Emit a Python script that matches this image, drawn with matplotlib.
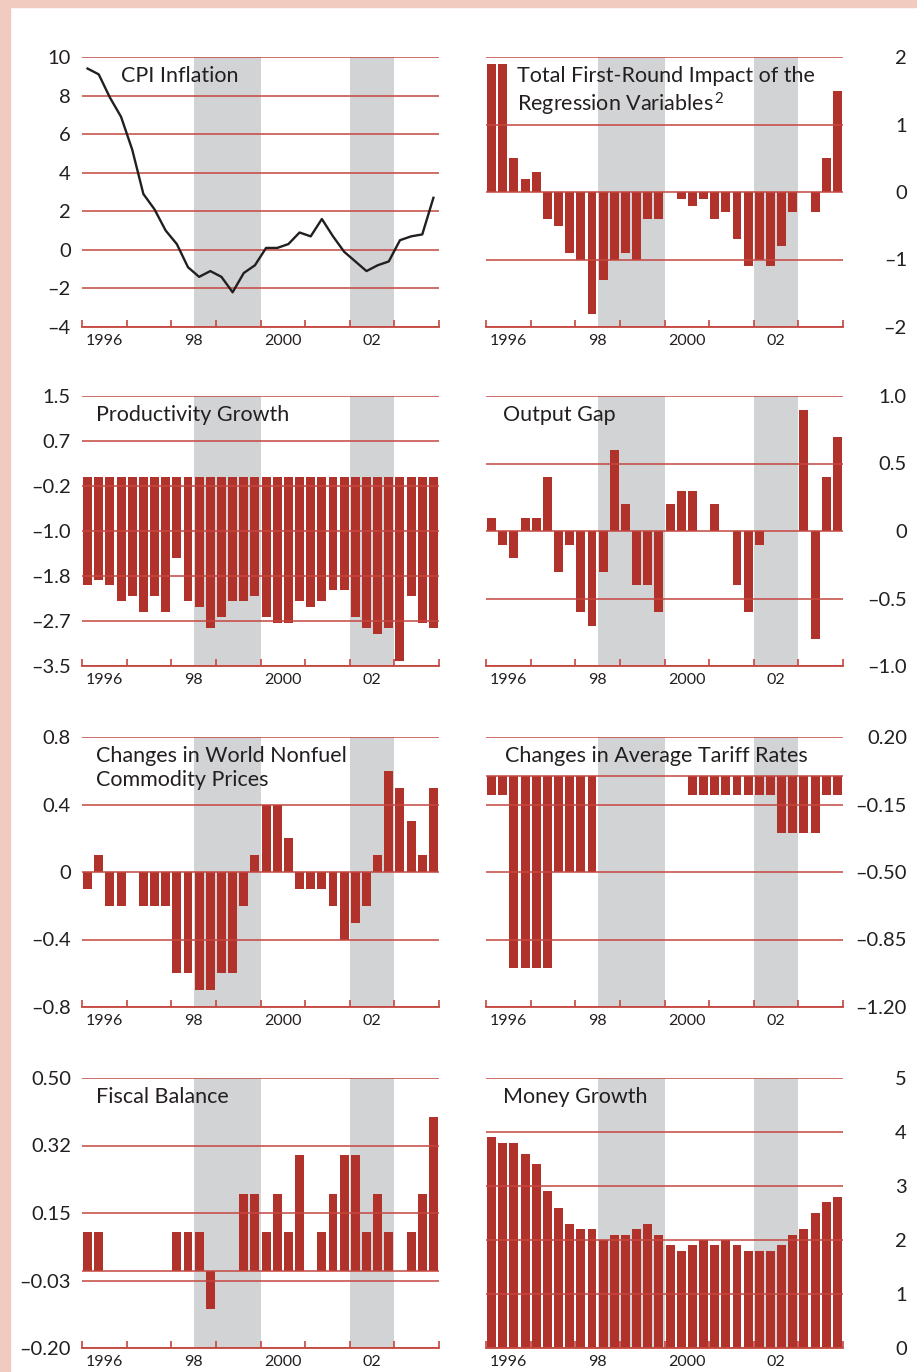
# Determinants of inflation - 8 panel chart (quarterly, 1996-2003)

import numpy as np
import matplotlib.pyplot as plt
from matplotlib.patches import Rectangle

plt.rcParams['font.family'] = ['Lato', 'DejaVu Sans']
plt.rcParams['mathtext.fontset'] = 'custom'
plt.rcParams['mathtext.rm'] = 'Lato'
plt.rcParams['mathtext.default'] = 'rm'

# quarterly positions: 1996Q1 .. 2003Q4
quarters = 1996 + (np.arange(32) + 0.5) / 4

cpi = [9.4, 9.1, 7.9, 6.9, 5.2, 2.9, 2.1, 1.0, 0.3, -0.9, -1.4, -1.1, -1.4, -2.2, -1.2, -0.8,
       0.1, 0.1, 0.3, 0.9, 0.7, 1.6, 0.7, -0.1, -0.6, -1.1, -0.8, -0.6, 0.5, 0.7, 0.8, 2.7]

first_round = [1.9, 1.9, 0.5, 0.2, 0.3, -0.4, -0.5, -0.9, -1.0, -1.8, -1.3, -1.0, -0.9, -1.0, -0.4, -0.4,
               0.0, -0.1, -0.2, -0.1, -0.4, -0.3, -0.7, -1.1, -1.0, -1.1, -0.8, -0.3, 0.0, -0.3, 0.5, 1.5]

productivity = [-2.0, -1.9, -2.0, -2.3, -2.2, -2.5, -2.2, -2.5, -1.5, -2.3, -2.4, -2.8, -2.6, -2.3, -2.3, -2.2,
                -2.6, -2.7, -2.7, -2.3, -2.4, -2.3, -2.1, -2.1, -2.6, -2.8, -2.9, -2.8, -3.4, -2.2, -2.7, -2.8]

output_gap = [0.1, -0.1, -0.2, 0.1, 0.1, 0.4, -0.3, -0.1, -0.6, -0.7, -0.3, 0.6, 0.2, -0.4, -0.4, -0.6,
              0.2, 0.3, 0.3, 0.0, 0.2, 0.0, -0.4, -0.6, -0.1, 0.0, 0.0, 0.0, 0.9, -0.8, 0.4, 0.7]

commodity = [-0.1, 0.1, -0.2, -0.2, 0.0, -0.2, -0.2, -0.2, -0.6, -0.6, -0.7, -0.7, -0.6, -0.6, -0.2, 0.1,
             0.4, 0.4, 0.2, -0.1, -0.1, -0.1, -0.2, -0.4, -0.3, -0.2, 0.1, 0.6, 0.5, 0.3, 0.1, 0.5]

tariff = [-0.1, -0.1, -1.0, -1.0, -1.0, -1.0, -0.5, -0.5, -0.5, -0.5, 0.0, 0.0, 0.0, 0.0, 0.0, 0.0,
          0.0, 0.0, -0.1, -0.1, -0.1, -0.1, -0.1, -0.1, -0.1, -0.1, -0.3, -0.3, -0.3, -0.3, -0.1, -0.1]

fiscal = [0.1, 0.1, 0.0, 0.0, 0.0, 0.0, 0.0, 0.0, 0.1, 0.1, 0.1, -0.1, 0.0, 0.0, 0.2, 0.2,
          0.1, 0.2, 0.1, 0.3, 0.0, 0.1, 0.2, 0.3, 0.3, 0.1, 0.2, 0.1, 0.0, 0.1, 0.2, 0.4]

money = [3.9, 3.8, 3.8, 3.6, 3.4, 2.9, 2.6, 2.3, 2.2, 2.2, 2.0, 2.1, 2.1, 2.2, 2.3, 2.1,
         1.9, 1.8, 1.9, 2.0, 1.9, 2.0, 1.9, 1.8, 1.8, 1.8, 1.9, 2.1, 2.2, 2.5, 2.7, 2.8]

M = '\u2013'
cpi_ticks = [10, 8, 6, 4, 2, 0, -2, -4]
cpi_labels = ['10', '8', '6', '4', '2', '0', M + '2', M + '4']
fr_ticks = [2, 1, 0, -1, -2]
fr_labels = ['2', '1', '0', M + '1', M + '2']
prod_ticks = list(np.linspace(1.5, -3.5, 7))
prod_labels = ['1.5', '0.7', M + '0.2', M + '1.0', M + '1.8', M + '2.7', M + '3.5']
gap_ticks = [1.0, 0.5, 0.0, -0.5, -1.0]
gap_labels = ['1.0', '0.5', '0', M + '0.5', M + '1.0']
comm_ticks = [0.8, 0.4, 0.0, -0.4, -0.8]
comm_labels = ['0.8', '0.4', '0', M + '0.4', M + '0.8']
tar_ticks = list(np.linspace(0.2, -1.2, 5))
tar_labels = ['0.20', M + '0.15', M + '0.50', M + '0.85', M + '1.20']
fis_ticks = list(np.linspace(0.5, -0.2, 5))
fis_labels = ['0.50', '0.32', '0.15', M + '0.03', M + '0.20']
mon_ticks = [5, 4, 3, 2, 1, 0]
mon_labels = ['5', '4', '3', '2', '1', '0']

year_ticks = list(range(1996, 2005))
year_labels = ['1996', '98', '2000', '02']
shade_spans = [(1998.5, 2000.0), (2002.0, 2003.0)]

RED = '#b0322a'
GRID = '#c4463f'
GREY = '#d2d3d5'
TXT = '#231f20'


def style(ax, yticks, ylabels, side, tx, title):
    ax.set_xlim(1996, 2004)
    ax.set_ylim(yticks[-1], yticks[0])
    for a, b in shade_spans:
        ax.axvspan(a, b, color=GREY, lw=0, zorder=0)
    for t in yticks:
        ax.axhline(t, color=GRID, lw=1.1, zorder=3)
    for s in ['top', 'left', 'right']:
        ax.spines[s].set_visible(False)
    ax.spines['bottom'].set_color(GRID)
    ax.spines['bottom'].set_linewidth(1.3)
    ax.spines['bottom'].set_zorder(4)
    ax.set_xticks(year_ticks)
    ax.set_xticklabels([])
    ax.tick_params(axis='x', which='major', direction='in', length=5, width=1.2, color=GRID)
    ax.set_xticks([1996.5, 1998.5, 2000.5, 2002.5], minor=True)
    ax.set_xticklabels(year_labels, minor=True)
    ax.tick_params(axis='x', which='minor', length=0, pad=5, labelsize=11.5, labelcolor=TXT)
    ax.set_yticks(yticks)
    ax.set_yticklabels(ylabels)
    if side == 'left':
        ax.tick_params(axis='y', length=0, pad=8, labelsize=14.5, labelcolor=TXT)
    else:
        ax.yaxis.tick_right()
        ax.tick_params(axis='y', length=0, pad=46, labelsize=14.5, labelcolor=TXT)
        for lab in ax.get_yticklabels():
            lab.set_horizontalalignment('right')
    ax.text(tx, 0.965, title, transform=ax.transAxes, ha='left', va='top',
            fontsize=15.5, color=TXT, linespacing=1.2, zorder=6)
    ax.set_facecolor('none')


fig = plt.figure(figsize=(9.17, 13.72), dpi=100)
fig.patches.append(Rectangle((0, 0), 10 / 917, 1, transform=fig.transFigure, color='#f2cbc0', zorder=-5))
fig.patches.append(Rectangle((0, 1 - 7 / 1372), 1, 7 / 1372, transform=fig.transFigure, color='#f2cbc0', zorder=-5))

W = 357 / 917
H = 270 / 1372
lefts = [82 / 917, 486 / 917]
tops = [57, 396, 737, 1078]


def make_ax(row, col):
    return fig.add_axes([lefts[col], 1 - (tops[row] + 270) / 1372, W, H])


bw = 0.2

# CPI inflation
ax = make_ax(0, 0)
style(ax, cpi_ticks, cpi_labels, 'left', 0.108, 'CPI Inflation')
ax.plot(quarters, cpi, color=TXT, lw=1.7, zorder=5)

# total first-round impact
ax = make_ax(0, 1)
style(ax, fr_ticks, fr_labels, 'right', 0.087,
      'Total First-Round Impact of the\nRegression Variables$^{\\,2}$')
ax.bar(quarters, first_round, width=bw, color=RED, zorder=2)

# productivity growth
ax = make_ax(1, 0)
style(ax, prod_ticks, prod_labels, 'left', 0.039, 'Productivity Growth')
ax.bar(quarters, productivity, width=bw, color=RED, zorder=2)

# output gap
ax = make_ax(1, 1)
style(ax, gap_ticks, gap_labels, 'right', 0.048, 'Output Gap')
ax.bar(quarters, output_gap, width=bw, color=RED, zorder=2)

# commodity prices
ax = make_ax(2, 0)
style(ax, comm_ticks, comm_labels, 'left', 0.039, 'Changes in World Nonfuel\nCommodity Prices')
ax.bar(quarters, commodity, width=bw, color=RED, zorder=2)

# tariff rates
ax = make_ax(2, 1)
style(ax, tar_ticks, tar_labels, 'right', 0.052, 'Changes in Average Tariff Rates')
ax.axhline(0, color=GRID, lw=1.1, zorder=3)
ax.bar(quarters, tariff, width=bw, color=RED, zorder=2)

# fiscal balance
ax = make_ax(3, 0)
style(ax, fis_ticks, fis_labels, 'left', 0.039, 'Fiscal Balance')
ax.axhline(0, color=GRID, lw=1.1, zorder=3)
ax.bar(quarters, fiscal, width=bw, color=RED, zorder=2)

# money growth
ax = make_ax(3, 1)
style(ax, mon_ticks, mon_labels, 'right', 0.048, 'Money Growth')
ax.bar(quarters, money, width=bw, color=RED, zorder=2)

fig.savefig('out.png', dpi=100, facecolor='white')
